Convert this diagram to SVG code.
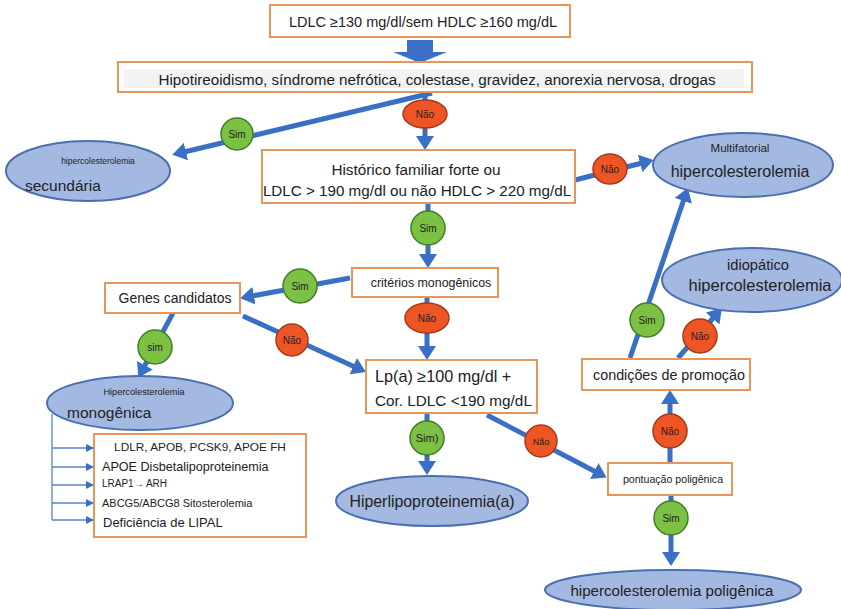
<svg xmlns="http://www.w3.org/2000/svg" width="841" height="609" viewBox="0 0 841 609">
<style>
  text { font-family: "Liberation Sans", Arial, sans-serif; fill: #222; }
  .box { fill: #ffffff; stroke: #e8955a; stroke-width: 2; }
  .ell { fill: #a3b9e2; stroke: #4a6fae; stroke-width: 2; }
  .conn { stroke: #3a6fc6; stroke-width: 5; fill: none; marker-end: url(#ah); }
  .thin { stroke: #5a82cc; stroke-width: 1.3; fill: none; marker-end: url(#ahs); }
  .sim { fill: #7cc144; stroke: #3d7f2a; stroke-width: 1.5; }
  .nao { fill: #ee5525; stroke: #a8381a; stroke-width: 1.5; }
  .lbl { font-size: 10px; text-anchor: middle; }
  .c { text-anchor: middle; }
</style>
<defs>
  <marker id="ah" viewBox="0 0 14 18" refX="2" refY="9" markerWidth="14" markerHeight="18" markerUnits="userSpaceOnUse" orient="auto">
    <path d="M0,0 L14,9 L0,18 z" fill="#3a6fc6"/>
  </marker>
  <marker id="ahs" viewBox="0 0 8 8" refX="7" refY="4" markerWidth="8" markerHeight="8" markerUnits="userSpaceOnUse" orient="auto">
    <path d="M0,0 L8,4 L0,8 z" fill="#3a6fc6"/>
  </marker>
</defs>

<g id="connectors">
  <polygon points="407,40 433,40 433,52 447,52 420,63 393,52 407,52" fill="#3a6fc6"/>
  <path class="conn" d="M432,93 L184,152"/>
  <path class="conn" d="M425,93 L425,138"/>
  <path class="conn" d="M575,180 L642,163"/>
  <path class="conn" d="M428,203 L428,256"/>
  <path class="conn" d="M350,278 L252,296"/>
  <path class="conn" d="M173,313 L144,367"/>
  <path class="conn" d="M243,316 L355,367"/>
  <path class="conn" d="M427,297 L427,348"/>
  <path class="conn" d="M427,413 L427,463"/>
  <path class="conn" d="M487,415 L596,472"/>
  <path class="conn" d="M670,463 L670,402"/>
  <path class="conn" d="M630,358 L684,199"/>
  <path class="conn" d="M678,358 L714,317"/>
  <path class="conn" d="M671,495 L671,554"/>
  <path d="M52,414 L52,520" stroke="#5a82cc" stroke-width="1.3" fill="none"/>
  <path class="thin" d="M52,448 L93,448"/>
  <path class="thin" d="M52,467 L93,467"/>
  <path class="thin" d="M52,485 L93,485"/>
  <path class="thin" d="M52,503 L93,503"/>
  <path class="thin" d="M52,520 L93,520"/>
</g>

<g id="labels">
  <circle class="sim" cx="237" cy="134" r="16"/><text class="lbl" x="237" y="138">Sim</text>
  <ellipse class="nao" cx="425" cy="114" rx="22" ry="14"/><text class="lbl" x="425" y="118">Não</text>
  <ellipse class="nao" cx="610" cy="169" rx="17" ry="15"/><text class="lbl" x="610" y="173">Não</text>
  <circle class="sim" cx="428" cy="228" r="17"/><text class="lbl" x="428" y="232">Sim</text>
  <circle class="sim" cx="300" cy="286" r="17"/><text class="lbl" x="300" y="290">Sim</text>
  <circle class="sim" cx="155" cy="347" r="17"/><text class="lbl" x="155" y="351">sim</text>
  <circle class="nao" cx="292" cy="340" r="16"/><text class="lbl" x="292" y="344">Não</text>
  <ellipse class="nao" cx="427" cy="318" rx="22" ry="15"/><text class="lbl" x="427" y="322">Não</text>
  <circle class="sim" cx="427" cy="438" r="17"/><text class="lbl" x="427" y="442" style="font-size:11px">Sim)</text>
  <circle class="nao" cx="541" cy="441" r="16"/><text class="lbl" x="541" y="445" style="font-size:9px">Não</text>
  <circle class="nao" cx="670" cy="431" r="17"/><text class="lbl" x="670" y="435">Não</text>
  <circle class="sim" cx="647" cy="320" r="17"/><text class="lbl" x="647" y="324">Sim</text>
  <circle class="nao" cx="700" cy="336" r="17"/><text class="lbl" x="700" y="340">Não</text>
  <circle class="sim" cx="671" cy="518" r="17"/><text class="lbl" x="671" y="522">Sim</text>
</g>

<g id="n-ldlc">
  <rect class="box" x="270" y="5" width="300" height="32"/>
  <text class="c" x="423" y="27" font-size="14.5">LDLC ≥130 mg/dl/sem HDLC ≥160 mg/dL</text>
</g>
<g id="n-causas">
  <rect class="box" x="118" y="62" width="634" height="30"/>
  <rect x="124" y="69" width="620" height="19" fill="#f3f3f3"/>
  <text class="c" x="437" y="85" font-size="15.2">Hipotireoidismo, síndrome nefrótica, colestase, gravidez, anorexia nervosa, drogas</text>
</g>
<g id="n-secundaria">
  <ellipse class="ell" cx="88" cy="171" rx="82" ry="30"/>
  <text class="c" x="98" y="164" font-size="8.5">hipercolesterolemia</text>
  <text x="25" y="191" font-size="15.5">secundária</text>
</g>
<g id="n-historico">
  <rect class="box" x="262" y="150" width="313" height="53"/>
  <text class="c" x="416" y="175" font-size="15.3">Histórico familiar forte ou</text>
  <text class="c" x="417" y="196" font-size="15.2">LDLC &gt; 190 mg/dl ou não HDLC &gt; 220 mg/dL</text>
</g>
<g id="n-multifatorial">
  <ellipse class="ell" cx="743" cy="165" rx="90" ry="32"/>
  <text class="c" x="740" y="152" font-size="11.5">Multifatorial</text>
  <text class="c" x="740" y="177" font-size="16">hipercolesterolemia</text>
</g>
<g id="n-criterios">
  <rect class="box" x="352" y="268" width="146" height="29"/>
  <text class="c" x="431" y="287" font-size="12.4">critérios monogênicos</text>
</g>
<g id="n-genes">
  <rect class="box" x="105" y="283" width="135" height="30"/>
  <text class="c" x="175" y="303" font-size="14">Genes candidatos</text>
</g>
<g id="n-monogenica">
  <ellipse class="ell" cx="140" cy="403" rx="93" ry="27"/>
  <text class="c" x="144" y="395" font-size="9.2">Hipercolesterolemia</text>
  <text x="67" y="418" font-size="15.5">monogênica</text>
</g>
<g id="n-lista">
  <rect class="box" x="94" y="434" width="212" height="103"/>
  <text class="c" x="200" y="451" font-size="11.8">LDLR, APOB, PCSK9, APOE FH</text>
  <text x="102" y="471" font-size="12.6">APOE Disbetalipoproteinemia</text>
  <text x="102" y="487" font-size="10">LRAP1→ ARH</text>
  <text x="102" y="507" font-size="11">ABCG5/ABCG8 Sitosterolemia</text>
  <text x="103" y="527" font-size="13">Deficiência de LIPAL</text>
</g>
<g id="n-lpa">
  <rect class="box" x="366" y="360" width="171" height="53"/>
  <text x="375" y="382" font-size="16.2">Lp(a) ≥100 mg/dl +</text>
  <text x="375" y="406" font-size="15.3">Cor. LDLC &lt;190 mg/dL</text>
</g>
<g id="n-hiperlipo">
  <ellipse class="ell" cx="432" cy="501" rx="96" ry="25"/>
  <text class="c" x="432" y="507" font-size="15.9">Hiperlipoproteinemia(a)</text>
</g>
<g id="n-pontuacao">
  <rect class="box" x="608" y="463" width="124" height="32"/>
  <text class="c" x="673" y="483" font-size="10.6">pontuação poligênica</text>
</g>
<g id="n-condicoes">
  <rect class="box" x="582" y="359" width="168" height="31"/>
  <text class="c" x="669" y="380" font-size="14.3">condições de promoção</text>
</g>
<g id="n-idiopatico">
  <ellipse class="ell" cx="752" cy="280" rx="90" ry="32"/>
  <text class="c" x="758" y="270" font-size="14.7">idiopático</text>
  <text class="c" x="760" y="291" font-size="16.5">hipercolesterolemia</text>
</g>
<g id="n-poligenica">
  <ellipse class="ell" cx="673" cy="590" rx="128" ry="20"/>
  <text class="c" x="672" y="596" font-size="15.1">hipercolesterolemia poligênica</text>
</g>
</svg>
